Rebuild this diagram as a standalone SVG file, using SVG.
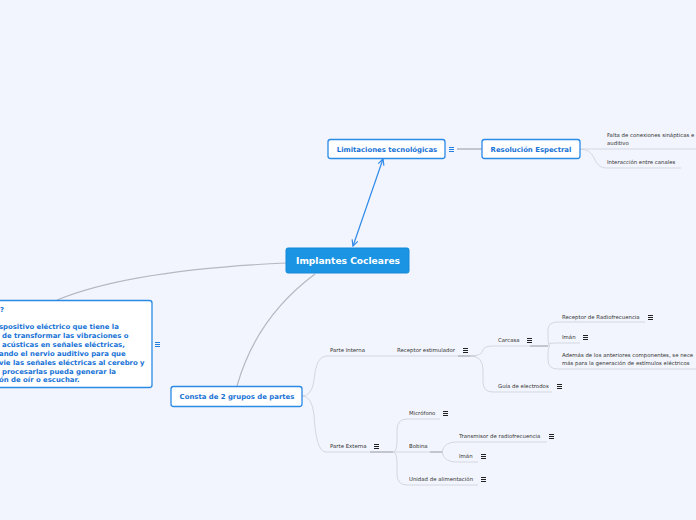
<svg xmlns="http://www.w3.org/2000/svg" width="696" height="520" viewBox="0 0 696 520">
<style>
.bg{fill:#f2f5fd}
.main rect{fill:#1b95e3;stroke:#1488d8;stroke-width:1}
.main text{fill:#fff;font:bold 9.1px "DejaVu Sans",Verdana,sans-serif;text-anchor:middle}
.box rect{fill:#fff;stroke:#2a8ae6;stroke-width:1.3}
.box text{fill:#1672d6;font:bold 6.9px "DejaVu Sans",Verdana,sans-serif;text-anchor:middle}
.big text{text-anchor:start;font-size:6.9px}
.leaf text{fill:#333;font:5.4px "DejaVu Sans",Verdana,sans-serif}
.ln{fill:none;stroke:#b4b8c2;stroke-width:1.2}
.lt{fill:none;stroke:#d3d7e0;stroke-width:1}
.dk{fill:none;stroke:#c2c6cf;stroke-width:2}
.menuB{fill:#1f7ee0}
.menuG{fill:#222}
</style>
<defs>
<g id="mi"><rect x="0" y="0" width="5" height="1"/><rect x="0" y="2" width="5" height="1"/><rect x="0" y="4" width="5" height="1"/></g>
<marker id="ah" viewBox="0 0 8 8" refX="7" refY="4" markerWidth="8" markerHeight="8" markerUnits="userSpaceOnUse" orient="auto-start-reverse"><path d="M1,1 L7,4 L1,7" fill="none" stroke="#2f8ae8" stroke-width="1.2"/></marker>
</defs>
<rect class="bg" x="0" y="0" width="696" height="520"/>

<g id="connectors">
<path class="ln" d="M57 300 Q130 270 286 263"/>
<path class="ln" d="M315 274 Q256 318 237 386"/>
<path d="M383 159 L353 246" fill="none" stroke="#2f8ae8" stroke-width="1.2" marker-start="url(#ah)" marker-end="url(#ah)"/>
<path class="dk" d="M457 149 H483"/>
<path class="lt" d="M580 149 H696"/>
<path class="lt" d="M580 149 Q590 149 594 158 Q598 168 606 168 H681"/>
<path class="lt" d="M302 396 Q312 396 314 380 Q316 356 326 356 H470"/>
<path class="lt" d="M302 396 Q312 396 314 415 Q316 452 326 452 H393"/>
<path class="dk" d="M370 452 H393"/>
<path class="dk" d="M458 356 H476"/>
<path class="lt" d="M470 356 Q482 356 483 350 Q484 346 493 346 H550"/>
<path class="lt" d="M470 356 Q483 356 483 370 V382 Q483 392 493 392 H552"/>
<path class="dk" d="M530 346 H548"/>
<path class="lt" d="M550 346 Q548 346 548 336 V330 Q548 322 558 322 H645"/>
<path class="lt" d="M548 344 Q550 343 556 343 H580"/>
<path class="lt" d="M550 346 Q548 346 548 356 V360 Q548 369 558 369 H696"/>
<path class="lt" d="M393 452 Q397 452 397 440 V430 Q397 419 407 419 H440"/>
<path class="lt" d="M393 452 H442"/>
<path class="lt" d="M393 452 Q397 452 397 464 V474 Q397 485 407 485 H478"/>
<path class="dk" d="M430 452 H443"/>
<path class="lt" d="M442 452 Q444 442 456 442 H547"/>
<path class="lt" d="M442 452 Q444 462 456 462 H478"/>
</g>

<g id="n-main" class="main"><rect x="286" y="248" width="123" height="25" rx="2"/><text x="348" y="264">Implantes Cocleares</text></g>

<g id="n-limit" class="box"><rect x="328" y="139.5" width="117" height="19" rx="2.5"/><text x="387" y="151.5">Limitaciones tecnológicas</text><use href="#mi" class="menuB" x="449" y="147"/></g>

<g id="n-resol" class="box"><rect x="482" y="139.5" width="98" height="19" rx="2.5"/><text x="531" y="151.5">Resolución Espectral</text></g>

<g id="n-falta" class="leaf"><text x="607" y="137">Falta de conexiones sinápticas e</text><text x="607" y="145">auditivo</text></g>
<g id="n-inter" class="leaf"><text x="607" y="164">Interacción entre canales</text></g>

<g id="n-def" class="box big"><rect x="-10" y="300.5" width="162" height="87" rx="2.5"/>
<text x="0" y="312">?</text>
<text x="-1" y="329">spositivo eléctrico que tiene la</text>
<text x="2" y="338">de transformar las vibraciones o</text>
<text x="2" y="347">acústicas en señales eléctricas,</text>
<text x="-1" y="356">ando el nervio auditivo para que</text>
<text x="-1" y="365">vie las señales eléctricas al cerebro y</text>
<text x="2" y="374">procesarlas pueda generar la</text>
<text x="-1" y="382">ón de oír o escuchar.</text>
<use href="#mi" class="menuB" x="155" y="342"/></g>

<g id="n-consta" class="box"><rect x="171" y="386.5" width="131" height="20" rx="2.5"/><text x="237" y="399">Consta de 2 grupos de partes</text></g>

<g id="n-interna" class="leaf"><text x="330" y="352">Parte Interna</text></g>
<g id="n-receptor" class="leaf"><text x="397" y="352">Receptor estimulador</text><use href="#mi" class="menuG" x="463" y="348"/></g>
<g id="n-carcasa" class="leaf"><text x="498" y="342">Carcasa</text><use href="#mi" class="menuG" x="527" y="338"/></g>
<g id="n-guia" class="leaf"><text x="498" y="388">Guía de electrodos</text><use href="#mi" class="menuG" x="557" y="384"/></g>
<g id="n-rrf" class="leaf"><text x="562" y="319">Receptor de Radiofrecuencia</text><use href="#mi" class="menuG" x="648" y="315"/></g>
<g id="n-iman1" class="leaf"><text x="562" y="339">Imán</text><use href="#mi" class="menuG" x="583" y="335"/></g>
<g id="n-ademas" class="leaf"><text x="562" y="357">Además de los anteriores componentes, se nece</text><text x="562" y="365">más para la generación de estímulos eléctricos</text></g>

<g id="n-externa" class="leaf"><text x="330" y="448">Parte Externa</text><use href="#mi" class="menuG" x="374" y="444"/></g>
<g id="n-micro" class="leaf"><text x="409" y="415">Micrófono</text><use href="#mi" class="menuG" x="443" y="411"/></g>
<g id="n-bobina" class="leaf"><text x="409" y="448">Bobina</text></g>
<g id="n-trans" class="leaf"><text x="459" y="438">Transmisor de radiofrecuencia</text><use href="#mi" class="menuG" x="549" y="434"/></g>
<g id="n-iman2" class="leaf"><text x="459" y="458">Imán</text><use href="#mi" class="menuG" x="481" y="454"/></g>
<g id="n-unidad" class="leaf"><text x="409" y="481">Unidad de alimentación</text><use href="#mi" class="menuG" x="481" y="477"/></g>
</svg>
